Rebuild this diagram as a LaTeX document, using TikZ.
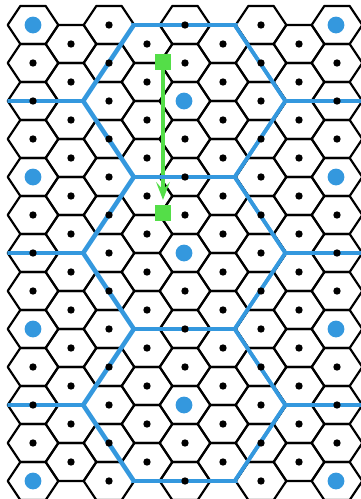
\documentclass[tikz,border=0pt]{standalone}
\usepackage{tikz}
\usetikzlibrary{arrows.meta}
\definecolor{superblue}{RGB}{52,152,222}
\definecolor{shiftgreen}{RGB}{84,222,72}

\begin{document}
\begin{tikzpicture}[x=1pt,y=-1pt,
  cell/.style={draw=black,line width=2.2pt,line join=round},
  supercell/.style={draw=superblue,line width=3.7pt,line join=round},
  marker/.style={rectangle,fill=shiftgreen,minimum size=16pt,inner sep=0pt},
  shiftarrow/.style={draw=shiftgreen,line width=4.6pt,shorten >=5pt,
    -{Stealth[length=18pt,width=14pt,inset=8pt,line width=0pt]}}]
\useasboundingbox (0,0) rectangle (361,499);
% small cells, even and odd columns
\foreach \i in {0,2,4,6,8} {
  \foreach \j in {0,...,12} {
    \draw[cell] (33+38*\i-25.33,25+38*\j) -- ++(12.67,-19) -- ++(25.33,0)
      -- ++(12.67,19) -- ++(-12.67,19) -- ++(-25.33,0) -- cycle;
  }
}
\foreach \i in {1,3,5,7} {
  \foreach \j in {0,...,11} {
    \draw[cell] (33+38*\i-25.33,44+38*\j) -- ++(12.67,-19) -- ++(25.33,0)
      -- ++(12.67,19) -- ++(-12.67,19) -- ++(-25.33,0) -- cycle;
  }
}
% shift between two cell corners
\node[marker] (start) at (163,62) {};
\node[marker] (stop) at (163,213) {};
\draw[shiftarrow] (start) -- (stop);
% super cells
\begin{scope}
\clip (7.67,23.2) rectangle (361,482.8);
\foreach \x/\y in {33/25,336/25,184/101,33/177,336/177,184/253,
                   33/329,336/329,184/405,33/481,336/481} {
  \draw[supercell] (\x-101.33,\y) -- ++(50.67,-76) -- ++(101.33,0)
    -- ++(50.67,76) -- ++(-50.67,76) -- ++(-101.33,0) -- cycle;
}
\end{scope}
% lattice sites
\foreach \i in {0,2,4,6,8} {
  \foreach \j in {0,...,12} {
    \fill (33+38*\i,25+38*\j) circle (3.7);
  }
}
\foreach \i in {1,3,5,7} {
  \foreach \j in {0,...,11} {
    \fill (33+38*\i,44+38*\j) circle (3.7);
  }
}
\foreach \x/\y in {33/25,336/25,184/101,33/177,336/177,184/253,
                   33/329,336/329,184/405,33/481,336/481} {
  \fill[superblue] (\x,\y) circle (8.4);
}
\end{tikzpicture}
\end{document}
